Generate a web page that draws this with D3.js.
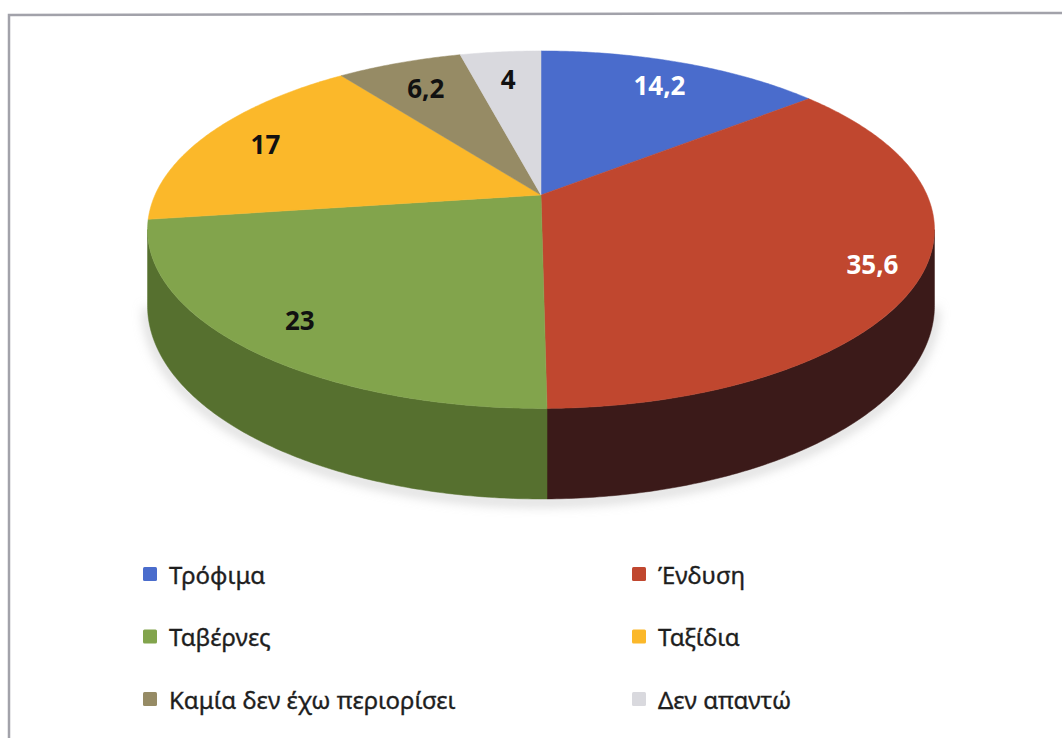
<!DOCTYPE html>
<html>
<head>
<meta charset="utf-8">
<script src="https://cdn.jsdelivr.net/npm/d3@7"></script>
<style>
  html, body { margin: 0; padding: 0; background: #fff; }
  svg { display: block; }
  .label { font-family: "Noto Sans", "Open Sans", sans-serif; font-weight: bold; font-size: 26px; }
  .legend text { font-family: "Noto Sans", "Open Sans", sans-serif; font-size: 24px; fill: #1e1e1e; stroke: #1e1e1e; stroke-width: 0.35px; }
</style>
</head>
<body>
<svg id="chart" width="1062" height="738"></svg>
<script>
  // Data
  var categories = ["Τρόφιμα", "Ένδυση", "Ταβέρνες", "Ταξίδια", "Καμία δεν έχω περιορίσει", "Δεν απαντώ"];
  var values = [14.2, 35.6, 23, 17, 6.2, 4];

  // Colours for top face, side wall and labels
  var topColors   = ["#4a6ccc", "#c0472f", "#82a44c", "#fbb82a", "#968b65", "#d9d9de"];
  var sideColors  = ["#2c4180", "#3b1a19", "#56702f", "#a87a14", "#655c40", "#9c9ca2"];
  var labelColors = ["#fff", "#fff", "#111", "#111", "#111", "#111"];

  var W = 1062, H = 738;
  var svg = d3.select("#chart");

  // Frame of the chart area (only top and left edges show)
  svg.append("path")
    .attr("d", "M9," + (H + 5) + " L9,15 L" + (W + 5) + ",13")
    .attr("fill", "none")
    .attr("stroke", "#a2a2aa")
    .attr("stroke-width", 2.5);

  // Perspective of the tilted disk
  var cx = 541, cy = 195,
      R = 386,          // horizontal radius
      B = 172,          // depth scale
      p = 0.194,        // perspective strength
      thick = 73;       // wall height

  // r in [0,1], t = clockwise angle from 12 o'clock
  function project(t, r, drop) {
    var X = r * Math.sin(t),
        Z = -r * Math.cos(t),
        w = 1 / (1 - p * Z);
    return [cx + R * X * w, cy + B * Z * w + (drop ? thick * w : 0)];
  }

  var pie = d3.pie().sort(null).startAngle(0).endAngle(2 * Math.PI);
  var arcs = pie(values);

  function arcPoints(a0, a1, r, drop) {
    var n = Math.max(2, Math.ceil((a1 - a0) / 0.01)), pts = [];
    for (var i = 0; i <= n; i++) pts.push(project(a0 + (a1 - a0) * i / n, r, drop));
    return pts;
  }

  // Silhouette: extreme left/right of the rim
  var tRight = 0, tLeft = 0, xMax = -Infinity, xMin = Infinity;
  d3.range(0, 2 * Math.PI, 0.002).forEach(function(t) {
    var x = project(t, 1, false)[0];
    if (x > xMax) { xMax = x; tRight = t; }
    if (x < xMin) { xMin = x; tLeft = t; }
  });

  var line = d3.line();

  // Soft shadow under the pie
  var defs = svg.append("defs");
  defs.append("filter").attr("id", "blur").append("feGaussianBlur").attr("stdDeviation", 6);

  svg.append("path")
    .attr("d", line(arcPoints(tRight, tLeft, 1.0, true).map(function(d) { return [d[0], d[1] + 3]; })))
    .attr("fill", "none")
    .attr("stroke", "#bbb")
    .attr("stroke-width", 5)
    .attr("filter", "url(#blur)");

  // Side walls (front half only)
  svg.selectAll("path.side")
    .data(arcs.filter(function(d) { return d.endAngle > tRight && d.startAngle < tLeft; }))
    .enter().append("path")
    .attr("class", "side")
    .attr("d", function(d) {
      var a0 = Math.max(d.startAngle, tRight), a1 = Math.min(d.endAngle, tLeft);
      var top = arcPoints(a0, a1, 1, false),
          bot = arcPoints(a0, a1, 1, true).reverse();
      return line(top.concat(bot)) + "Z";
    })
    .attr("fill", function(d) { return sideColors[d.index]; })
    .attr("stroke", function(d) { return sideColors[d.index]; })
    .attr("stroke-width", 0.5);

  // Top faces
  svg.selectAll("path.top")
    .data(arcs)
    .enter().append("path")
    .attr("class", "top")
    .attr("d", function(d) {
      var pts = [project(0, 0, false)].concat(arcPoints(d.startAngle, d.endAngle, 1, false));
      return line(pts) + "Z";
    })
    .attr("fill", function(d) { return topColors[d.index]; })
    .attr("stroke", function(d) { return topColors[d.index]; })
    .attr("stroke-width", 0.5);

  // Data labels: bigger slices carry their label further out
  var labelR = d3.scaleLinear().domain(d3.extent(values)).range([0.78, 0.88]);
  function labelPos(d) {
    return project((d.startAngle + d.endAngle) / 2, labelR(d.data), false);
  }
  svg.selectAll("text.label")
    .data(arcs)
    .enter().append("text")
    .attr("class", "label")
    .attr("x", function(d) { return labelPos(d)[0]; })
    .attr("y", function(d) { return labelPos(d)[1]; })
    .attr("text-anchor", "middle")
    .attr("dominant-baseline", "central")
    .attr("fill", function(d) { return labelColors[d.index]; })
    .text(function(d) { return String(d.data).replace(".", ","); });

  // Legend: two columns, three rows
  var colX = d3.scaleOrdinal().domain([0, 1]).range([143, 632]);
  var rowY = d3.scaleLinear().domain([0, 2]).range([574, 699]);

  var legend = svg.append("g").attr("class", "legend")
    .selectAll("g")
    .data(categories)
    .enter().append("g")
    .attr("transform", function(d, i) {
      return "translate(" + colX(i % 2) + "," + rowY(Math.floor(i / 2)) + ")";
    });

  legend.append("rect")
    .attr("x", 0).attr("y", -7)
    .attr("width", 14).attr("height", 14)
    .attr("rx", 1.5)
    .attr("fill", function(d, i) { return topColors[i]; });

  legend.append("text")
    .attr("x", 26)
    .attr("y", 0)
    .attr("dominant-baseline", "central")
    .text(function(d) { return d; });
</script>
</body>
</html>
